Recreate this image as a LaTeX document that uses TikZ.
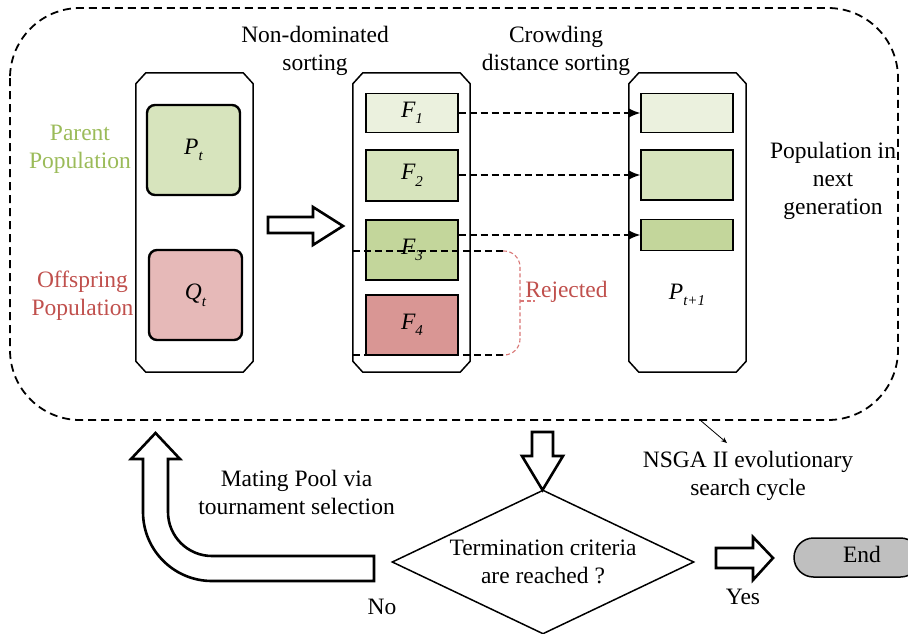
\documentclass[tikz,border=0pt]{standalone}
\usepackage{fontspec}
\setmainfont{Liberation Serif}
\usetikzlibrary{arrows.meta,shapes.geometric}
\definecolor{pgreen}{HTML}{9BBB59}
\definecolor{ored}{HTML}{C0504D}
\definecolor{rej}{RGB}{217,119,118}
\definecolor{gone}{HTML}{EBF1DE}
\definecolor{gtwo}{HTML}{D7E4BD}
\definecolor{gthree}{HTML}{C3D69B}
\definecolor{rfour}{HTML}{D99694}
\definecolor{qpink}{HTML}{E6B9B8}
\definecolor{endgray}{HTML}{BFBFBF}
\newcommand{\lowsub}[1]{\raisebox{-0.28em}{\fontsize{15}{15}\selectfont\itshape #1}}
\newcommand{\chamferbox}[1]{\draw[cont] ([yshift=-11pt]#1.north west) -- ([xshift=10pt]#1.north west) -- ([xshift=-10pt]#1.north east) -- ([yshift=-11pt]#1.north east) -- ([yshift=11pt]#1.south east) -- ([xshift=-10pt]#1.south east) -- ([xshift=10pt]#1.south west) -- ([yshift=11pt]#1.south west) -- cycle;}
\begin{document}
\begin{tikzpicture}[x=1pt,y=-1pt,
  font=\fontsize{23.5}{28}\selectfont,
  cont/.style={line width=1.5pt},
  holder/.style={inner sep=0, minimum width=117pt, minimum height=299pt},
  popbox/.style={draw, line width=2.4pt, rounded corners=8pt, inner sep=0, minimum width=93pt, minimum height=90pt},
  front/.style={draw, line width=1.4pt, inner sep=0, minimum width=92pt},
  blk/.style={draw, line width=2.6pt, fill=white, line join=miter},
  dconn/.style={line width=1.6pt, dash pattern=on 7pt off 4pt, -{Latex[length=12pt,width=10pt]}},
  dline/.style={line width=1.5pt, dash pattern=on 7pt off 4pt},
  lbl/.style={align=center, inner sep=0}]
\useasboundingbox (0,0) rectangle (908,633);

% outer dashed cycle
\draw[line width=1.8pt, dash pattern=on 8pt off 5pt, rounded corners=70pt] (10,8) rectangle (898,420);

% containers
\node[holder] (c1) at (194.5,222.5) {};
\node[holder] (c2) at (411.5,222.5) {};
\node[holder] (c3) at (687.5,222.5) {};
\chamferbox{c1}
\chamferbox{c2}
\chamferbox{c3}

% parent / offspring
\node[popbox, fill=gtwo] (pt) at (193.5,150) {{\itshape P}\lowsub{t}};
\node[popbox, fill=qpink] (qt) at (195.5,295) {{\itshape Q}\lowsub{t}};

% fronts
\node[front, fill=gone, minimum height=39pt] (f1) at (412,113) {{\itshape F}\lowsub{1}};
\node[front, fill=gtwo, minimum height=51pt] (f2) at (412,175.5) {{\itshape F}\lowsub{2}};
\node[front, fill=gthree, minimum height=60pt] (f3) at (412,250) {{\itshape F}\lowsub{3}};
\node[front, fill=rfour, minimum height=60pt] (f4) at (412,325) {{\itshape F}\lowsub{4}};

% next population
\node[front, fill=gone, minimum height=39pt] (r1) at (687,113) {};
\node[front, fill=gtwo, minimum height=50pt] (r2) at (687,175) {};
\node[front, fill=gthree, minimum height=31pt] (r3) at (687,235) {};
\node (pnext) at (687,295) {{\itshape P}\lowsub{t+1}};

% dashed arrows
\draw[dconn] (f1.east |- r1.west) -- (r1.west);
\draw[dconn] (f2.east |- r2.west) -- (r2.west);
\draw[dconn] (f3.east |- r3.west) -- (r3.west);

% rejected cut lines
\coordinate (cutA) at (503,251);
\coordinate (cutB) at (503,355);
\draw[dline] (c2.west |- cutA) -- (cutA);
\draw[dline] (c2.west |- cutB) -- (cutB);
\draw[rej, line width=1.1pt, dash pattern=on 4pt off 2.5pt, rounded corners=16pt] (cutA) -- (520,251) -- (520,355) -- (cutB);
\draw[rej, line width=1.1pt, dash pattern=on 4pt off 2.5pt] (520,301) -- (535,301);
\node[lbl, text=ored] (rejected) at (566.5,292) {Rejected};

% labels
\node[lbl, text=pgreen] (parent) at (80,149) {Parent\\Population};
\node[lbl, text=ored] (offspring) at (82.5,296) {Offspring\\Population};
\node[lbl] (nds) at (315,51) {Non-dominated\\sorting};
\node[lbl] (cds) at (556,51) {Crowding\\distance sorting};
\node[lbl] (nextgen) at (833,181) {Population in\\next\\generation};

% block arrow c1 -> c2
\draw[blk] (268,217) -- (313,217) -- (313,207) -- (343,226) -- (313,245) -- (313,233) -- (268,233) -- cycle;

% down arrow to decision
\draw[blk] (532,432) -- (553,432) -- (553,456) -- (563,456) -- (542.5,490) -- (522,456) -- (532,456) -- cycle;

% decision
\node[draw, diamond, aspect=2.1, inner sep=0, line width=1.5pt, minimum width=302pt, minimum height=144pt, align=center] (term) at (543,562) {Termination criteria\\are reached ?};

% yes arrow
\draw[blk] (716,548) -- (753,548) -- (753,537) -- (773,558) -- (753,580) -- (753,568) -- (716,568) -- cycle;
\node[lbl] (yes) at (743,597) {Yes};

% end
\node[draw, fill=endgray, line width=1.5pt, rounded corners=19.5pt, minimum width=126pt, minimum height=39pt, inner sep=0] (endn) at (857,557.5) {};
\node[lbl] (endtxt) at (862,554) {End};

% curved return arrow
\draw[blk] (374,556) -- (374,581) -- (212,581) .. controls (173.9,581) and (143,550.1) .. (143,512) -- (143,459) -- (131,459) -- (155.5,433) -- (180,459) -- (168,459) -- (168,512) .. controls (168,536.3) and (187.7,556) .. (212,556) -- cycle;
\node[lbl] (no) at (382,607) {No};
\node[lbl] (mating) at (296.5,492) {Mating Pool via\\tournament selection};

% NSGA label and pointer
\node[lbl] (nsga) at (748,476) {NSGA II evolutionary\\search cycle};
\coordinate (cyc) at (700,420);
\draw[line width=0.8pt, -{Stealth[length=6pt,width=5pt]}] (cyc) -- (727,443);
\end{tikzpicture}
\end{document}
